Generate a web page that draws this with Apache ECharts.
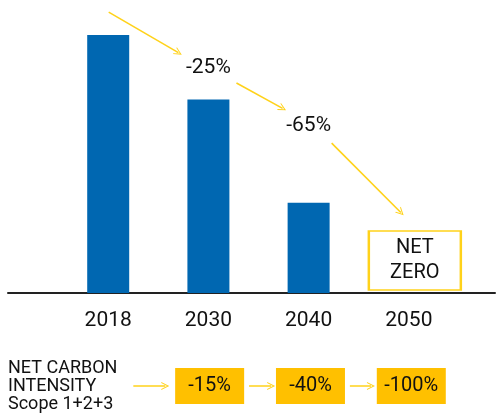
<!DOCTYPE html>
<html>
<head>
<meta charset="utf-8">
<script src="https://cdn.jsdelivr.net/npm/echarts@6/dist/echarts.min.js"></script>
<style>
  html, body { margin: 0; padding: 0; background: #fff; }
  #chart { width: 498px; height: 419px; }
</style>
</head>
<body>
<div id="chart"></div>
<script>
// categories and values (bar heights indexed to 2018 = 100)
const years = ['2018', '2030', '2040', '2050'];
const emissions = [100, 75, 35];
const netZeroPos = [3.06, 12.6];

// reduction callouts above the bars: [x index, y value, text]
const reductions = [[1, 87.2, '-25%'], [2, 64.7, '-65%']];
// arrows between the callouts, in data units: [[x1, y1], [x2, y2]]
const topArrows = [
    [[0.005, 108.9], [0.70, 93.2]],
    [[1.28, 81.4], [1.74, 71.6]],
    [[2.23, 58.1], [2.92, 31.2]]
];

// bottom row: net carbon intensity targets
const intensityLabel = 'NET CARBON\nINTENSITY\nScope 1+2+3';
const intensity = [[1, '-15%'], [2, '-40%'], [3, '-100%']];
const bottomArrows = [[0.243, 0.56], [1.391, 1.61], [2.391, 2.60]];

const yellow = '#ffd21a';
const chevron = 'path://M0,10 L6,0 L12,10 L10.4,10 L6,2.8 L1.6,10 Z';

const chart = echarts.init(document.getElementById('chart'));

chart.setOption({
    animation: false,
    title: {
        text: intensityLabel,
        left: 8, top: 359, padding: 0,
        textStyle: { fontFamily: 'Roboto', fontSize: 18, lineHeight: 18, fontWeight: 'normal', color: '#111' }
    },
    grid: [
        { left: 8, right: 0, top: 0, height: 293 },
        { left: 8, right: 0, top: 368, height: 36 }
    ],
    xAxis: [
        {
            type: 'value', gridIndex: 0, min: -1, max: 3.86, interval: 1,
            splitLine: { show: false },
            axisTick: { show: false },
            axisLine: { show: true, lineStyle: { color: '#222', width: 2 } },
            axisLabel: {
                margin: 17, fontFamily: 'Roboto', fontSize: 21, color: '#111',
                formatter: v => (Number.isInteger(v) && years[v]) ? years[v] : ''
            }
        },
        { type: 'value', gridIndex: 1, min: -1, max: 3.86, show: false }
    ],
    yAxis: [
        { type: 'value', gridIndex: 0, min: 0, max: 113.6, show: false },
        { type: 'value', gridIndex: 1, min: 0, max: 1, show: false }
    ],
    series: [
        {
            type: 'bar', xAxisIndex: 0, yAxisIndex: 0, barWidth: 42,
            itemStyle: { color: '#0067b1' },
            data: emissions.map((v, i) => [i, v])
        },
        {
            // NET ZERO box at 2050
            type: 'scatter', xAxisIndex: 0, yAxisIndex: 0,
            symbol: 'rect', symbolSize: [92, 59],
            itemStyle: { color: '#fff', borderColor: '#ffd21a', borderWidth: 2, opacity: 1 },
            label: {
                show: true, position: 'inside', formatter: 'NET\nZERO',
                fontFamily: 'Roboto', fontSize: 20, lineHeight: 25, color: '#111'
            },
            data: [netZeroPos]
        },
        {
            type: 'scatter', xAxisIndex: 0, yAxisIndex: 0, symbolSize: 0,
            itemStyle: { opacity: 1 },
            label: {
                show: true, position: 'inside', formatter: p => p.data[2],
                fontFamily: 'Roboto', fontSize: 21, color: '#111'
            },
            data: reductions
        },
        {
            type: 'lines', coordinateSystem: 'cartesian2d', xAxisIndex: 0, yAxisIndex: 0,
            symbol: ['none', chevron], symbolSize: [12, 8],
            lineStyle: { color: yellow, width: 1.6, opacity: 1 },
            data: topArrows.map(c => ({ coords: c }))
        },
        {
            type: 'bar', xAxisIndex: 1, yAxisIndex: 1, barWidth: 69,
            itemStyle: { color: '#ffc000' },
            label: {
                show: true, position: 'inside', formatter: p => p.data[2],
                fontFamily: 'Roboto', fontSize: 20, color: '#111'
            },
            data: intensity.map(d => [d[0], 1, d[1]])
        },
        {
            type: 'lines', coordinateSystem: 'cartesian2d', xAxisIndex: 1, yAxisIndex: 1,
            symbol: ['none', chevron], symbolSize: [12, 8],
            lineStyle: { color: yellow, width: 1.6, opacity: 1 },
            data: bottomArrows.map(a => ({ coords: [[a[0], 0.5], [a[1], 0.5]] }))
        }
    ]
});
</script>
</body>
</html>
